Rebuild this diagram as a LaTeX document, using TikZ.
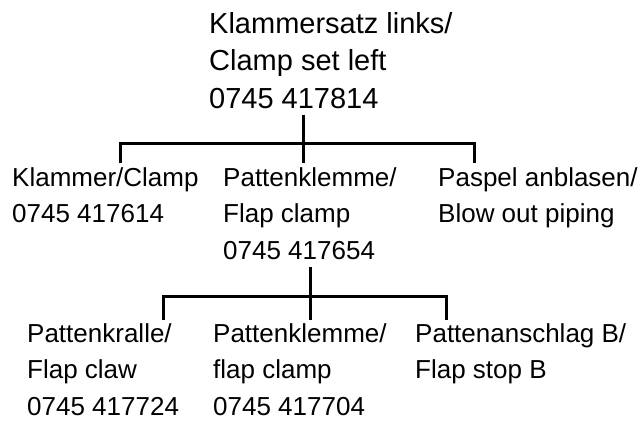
\documentclass[tikz,border=0pt]{standalone}
\usepackage{fontspec}
\setmainfont{Liberation Sans}
\usepackage{xcolor}
\definecolor{Paper}{HTML}{FFFFFF}
\definecolor{Ink}{HTML}{000000}

\begin{document}
\begin{tikzpicture}[x=1pt,y=-1pt,
  every node/.style={text=Ink,inner sep=0pt,anchor=north west,align=left},
  part/.style={font=\fontsize{26}{36.5}\selectfont},
  head/.style={font=\fontsize{29}{37.5}\selectfont},
  tree/.style={Ink,line width=3pt}]
\fill[Paper] (0,0) rectangle (643,421);
\useasboundingbox (0,0) rectangle (643,421);
% Baugruppe
\node[head] (set) at (209,12) {Klammersatz links/\\Clamp set left\\0745 417814};
% erste Ebene
\node[part] (klammer) at (12,167) {Klammer/Clamp\\0745 417614};
\node[part] (klemme) at (223,167) {Pattenklemme/\\Flap clamp\\0745 417654};
\node[part] (paspel) at (438,167) {Paspel anblasen/\\Blow out piping};
% zweite Ebene
\node[part] (kralle) at (27,323) {Pattenkralle/\\Flap claw\\0745 417724};
\node[part] (klemmeb) at (213,323) {Pattenklemme/\\flap clamp\\0745 417704};
\node[part] (anschlag) at (415,323) {Pattenanschlag B/\\Flap stop B};
% Verbindungen
\coordinate (a1) at (120,143);
\coordinate (a2) at (303,143);
\coordinate (a3) at (474,143);
\draw[tree] ([yshift=-6pt]a2 |- set.south) -- (a2);
\draw[tree] ([yshift=4pt]a1 |- klammer.north) -- (a1) -- (a3) -- ([yshift=4pt]a3 |- paspel.north);
\draw[tree] (a2) -- ([yshift=4pt]a2 |- klemme.north);
\coordinate (b1) at (163,296);
\coordinate (b2) at (310,296);
\coordinate (b3) at (446,296);
\draw[tree] ([yshift=-8pt]b2 |- klemme.south) -- (b2);
\draw[tree] ([yshift=3pt]b1 |- kralle.north) -- (b1) -- (b3) -- ([yshift=3pt]b3 |- anschlag.north);
\draw[tree] (b2) -- ([yshift=3pt]b2 |- klemmeb.north);
\end{tikzpicture}
\end{document}
